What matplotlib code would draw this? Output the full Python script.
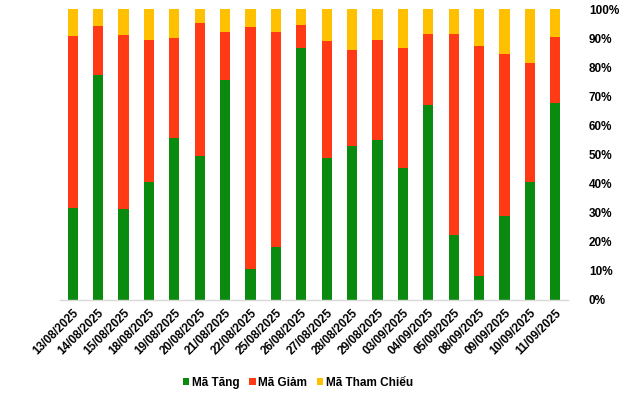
import matplotlib
matplotlib.use("Agg")
import matplotlib.pyplot as plt
from matplotlib.ticker import FuncFormatter, MultipleLocator
from matplotlib.patches import Patch

dates = ["13/08/2025", "14/08/2025", "15/08/2025", "18/08/2025", "19/08/2025",
         "20/08/2025", "21/08/2025", "22/08/2025", "25/08/2025", "26/08/2025",
         "27/08/2025", "28/08/2025", "29/08/2025", "03/09/2025", "04/09/2025",
         "05/09/2025", "08/09/2025", "09/09/2025", "10/09/2025", "11/09/2025"]
ma_tang = [31.7, 77.3, 31.3, 40.7, 55.8, 49.6, 75.7, 10.7, 18.2, 86.7,
           48.9, 53.0, 55.1, 45.5, 67.0, 22.3, 8.4, 29.0, 40.7, 67.7]
ma_giam = [59.1, 17.0, 59.9, 48.8, 34.4, 45.7, 16.5, 83.2, 74.0, 7.9,
           40.2, 33.0, 34.4, 41.2, 24.5, 69.2, 79.0, 55.6, 40.8, 22.8]
ma_tham_chieu = [round(100 - a - b, 1) for a, b in zip(ma_tang, ma_giam)]

series_names = ["Mã Tăng", "Mã Giảm", "Mã Tham Chiếu"]
colors = ["#0B8A10", "#FF3A14", "#FFC000"]

plt.rcParams['font.family'] = ['Liberation Sans', 'DejaVu Sans']

fig = plt.figure(figsize=(6.4, 3.93), dpi=100)
ax = fig.add_axes([60/640, 1 - 300/393, (568-60)/640, (300-9)/393])

x = list(range(len(dates)))
w = 0.4
ax.bar(x, ma_tang, width=w, color=colors[0])
ax.bar(x, ma_giam, width=w, bottom=ma_tang, color=colors[1])
bottom2 = [a + b for a, b in zip(ma_tang, ma_giam)]
ax.bar(x, ma_tham_chieu, width=w, bottom=bottom2, color=colors[2])

ax.set_xlim(-0.5, len(dates) - 0.5)
ax.set_ylim(0, 100)
ax.yaxis.tick_right()
ax.yaxis.set_major_locator(MultipleLocator(10))
ax.yaxis.set_major_formatter(FuncFormatter(lambda v, p: f"{int(round(v))}%"))
ax.tick_params(axis='y', length=0, pad=15, labelsize=8.5)
for lbl in ax.get_yticklabels():
    lbl.set_fontweight('bold')

ax.set_xticks(x)
ax.set_xticklabels(dates, rotation=45, ha='right', rotation_mode='anchor',
                   fontsize=8.5, fontweight='bold')
ax.tick_params(axis='x', length=0, pad=5)

for s in ['top', 'left', 'right']:
    ax.spines[s].set_visible(False)
ax.spines['bottom'].set_color('#D9D9D9')
ax.spines['bottom'].set_linewidth(1)

handles = [Patch(facecolor=c, label=n) for c, n in zip(colors, series_names)]
fig.legend(handles=handles, loc='center', bbox_to_anchor=(298/640, 1 - 383/393),
           ncol=3, frameon=False, handlelength=0.55, handleheight=0.55,
           handletextpad=0.25, columnspacing=0.8,
           prop={'size': 8.5, 'weight': 'bold'})

fig.savefig("out.png", dpi=100)
